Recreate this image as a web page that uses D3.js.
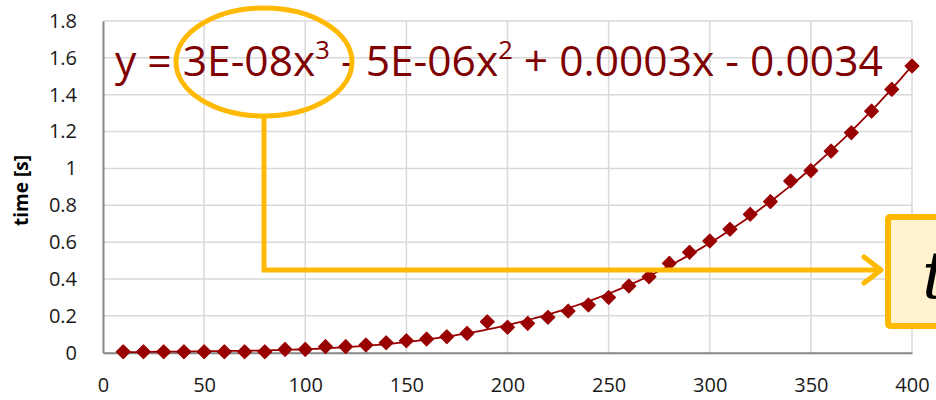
<!DOCTYPE html>
<html>
<head>
<meta charset="utf-8">
<script src="https://cdn.jsdelivr.net/npm/d3@7"></script>
<style>
  html, body { margin: 0; padding: 0; background: #fff; overflow: hidden; }
  svg { display: block; }
  .tick-label { font-family: "Open Sans", "Liberation Sans", sans-serif; font-size: 20px; fill: #1a1a1a; }
</style>
</head>
<body>
<div id="chart"></div>
<script>
// 数据
const sizes = [10, 20, 30, 40, 50, 60, 70, 80, 90, 100,
               110, 120, 130, 140, 150, 160, 170, 180, 190, 200,
               210, 220, 230, 240, 250, 260, 270, 280, 290, 300,
               310, 320, 330, 340, 350, 360, 370, 380, 390, 400];
const times = [0.005, 0.005, 0.005, 0.005, 0.005, 0.005, 0.005, 0.005, 0.018, 0.018,
               0.033, 0.033, 0.042, 0.054, 0.065, 0.074, 0.087, 0.105, 0.168, 0.138,
               0.159, 0.192, 0.226, 0.259, 0.300, 0.362, 0.412, 0.485, 0.545, 0.606,
               0.670, 0.751, 0.820, 0.932, 0.988, 1.094, 1.194, 1.311, 1.429, 1.556];
const xTicks = [0, 50, 100, 150, 200, 250, 300, 350, 400];
const yTicks = [0, 0.2, 0.4, 0.6, 0.8, 1, 1.2, 1.4, 1.6, 1.8];
const equationParts = [
    { text: 'y = 3E-08x', sup: false },
    { text: '3', sup: true },
    { text: ' - 5E-06x', sup: false },
    { text: '2', sup: true },
    { text: ' + 0.0003x - 0.0034', sup: false }
];
const yTitle = 'time [s]';

const width = 936, height = 400;
const red = '#990000', orange = '#ffb900';

const svg = d3.select('#chart').append('svg')
    .attr('width', width)
    .attr('height', height);

const x = d3.scaleLinear().domain([0, 400]).range([103, 912]);
const y = d3.scaleLinear().domain([0, 1.8]).range([352.7, 21]);

// 网格线
svg.append('g')
    .selectAll('line')
    .data(xTicks.slice(1))
    .enter().append('line')
    .attr('x1', d => x(d)).attr('x2', d => x(d))
    .attr('y1', y(1.8)).attr('y2', y(0))
    .attr('stroke', '#d9d9d9').attr('stroke-width', 1.5);

svg.append('g')
    .selectAll('line')
    .data(yTicks.slice(1))
    .enter().append('line')
    .attr('x1', x(0)).attr('x2', x(400))
    .attr('y1', d => y(d)).attr('y2', d => y(d))
    .attr('stroke', '#d9d9d9').attr('stroke-width', 1.5);

// 坐标轴
const yAxis = svg.append('g')
    .attr('transform', `translate(${x(0)},0)`)
    .call(d3.axisLeft(y).tickValues(yTicks).tickSize(0).tickPadding(26).tickFormat(d3.format('')));
const xAxis = svg.append('g')
    .attr('transform', `translate(0,${y(0)})`)
    .call(d3.axisBottom(x).tickValues(xTicks).tickSize(0).tickPadding(25));
[yAxis, xAxis].forEach(a => {
    a.select('.domain').attr('stroke', '#868686').attr('stroke-width', 2);
    a.selectAll('text').attr('class', 'tick-label').attr('fill', '#1a1a1a');
});

svg.append('text')
    .attr('transform', `translate(28,${y(0.88)}) rotate(-90)`)
    .attr('text-anchor', 'middle')
    .attr('font-family', '"Open Sans", "Liberation Sans", sans-serif')
    .attr('font-weight', 'bold')
    .attr('font-size', 19)
    .text(yTitle);

// 三次多项式拟合 (最小二乘)
function polyfit(xs, ys, deg) {
    const n = deg + 1;
    const A = Array.from({ length: n }, () => new Array(n + 1).fill(0));
    xs.forEach((xv, k) => {
        for (let i = 0; i < n; i++) {
            for (let j = 0; j < n; j++) A[i][j] += Math.pow(xv, i + j);
            A[i][n] += ys[k] * Math.pow(xv, i);
        }
    });
    for (let i = 0; i < n; i++) {
        let p = i;
        for (let r = i + 1; r < n; r++) if (Math.abs(A[r][i]) > Math.abs(A[p][i])) p = r;
        [A[i], A[p]] = [A[p], A[i]];
        for (let r = 0; r < n; r++) {
            if (r === i) continue;
            const f = A[r][i] / A[i][i];
            for (let c = i; c <= n; c++) A[r][c] -= f * A[i][c];
        }
    }
    return A.map((row, i) => row[n] / row[i]);
}
const coef = polyfit(sizes, times, 3);
const fit = xv => coef.reduce((s, c, i) => s + c * Math.pow(xv, i), 0);
const fitPts = d3.range(sizes[0], 400.5, 2).map(v => [v, fit(v)]);

svg.append('path')
    .datum(fitPts)
    .attr('fill', 'none')
    .attr('stroke', red)
    .attr('stroke-width', 1.8)
    .attr('d', d3.line().x(d => x(d[0])).y(d => y(Math.max(d[1], 0))));

// 数据点
svg.append('g')
    .selectAll('path')
    .data(sizes.map((s, i) => [s, times[i]]))
    .enter().append('path')
    .attr('transform', d => `translate(${x(d[0])},${y(d[1])})`)
    .attr('d', d3.symbol().type(d3.symbolDiamond2).size(120))
    .attr('fill', red)
    .attr('stroke', red)
    .attr('stroke-width', 1.2)
    .attr('stroke-linejoin', 'round');

// 方程
const eq = svg.append('text')
    .attr('x', 115)
    .attr('y', 76)
    .attr('font-family', '"Open Sans", "Liberation Sans", sans-serif')
    .attr('font-size', 40)
    .attr('fill', '#7f0000');
equationParts.forEach(p => {
    const t = eq.append('tspan').text(p.text);
    if (p.sup) t.attr('font-size', '60%').attr('baseline-shift', 'super');
});
const eqW = eq.node().getComputedTextLength();
eq.attr('font-size', 40 * 768 / eqW);

// 标注
svg.append('ellipse')
    .attr('cx', 264).attr('cy', 62).attr('rx', 88).attr('ry', 54)
    .attr('fill', 'none').attr('stroke', orange).attr('stroke-width', 5);

svg.append('path')
    .attr('d', 'M264,117 V270 H881')
    .attr('fill', 'none').attr('stroke', orange).attr('stroke-width', 5)
    .attr('stroke-linejoin', 'miter');
svg.append('path')
    .attr('d', 'M864,257 L881,270 L864,283')
    .attr('fill', 'none').attr('stroke', orange).attr('stroke-width', 5)
    .attr('stroke-linecap', 'round').attr('stroke-linejoin', 'round');

svg.append('rect')
    .attr('x', 888).attr('y', 217).attr('width', 80).attr('height', 109)
    .attr('rx', 2)
    .attr('fill', '#fff2cc').attr('stroke', orange).attr('stroke-width', 6);

svg.append('text')
    .attr('x', 922).attr('y', 298)
    .attr('font-family', '"DejaVu Serif", serif')
    .attr('font-style', 'italic')
    .attr('font-size', 66)
    .attr('fill', '#000')
    .text('t');
</script>
</body>
</html>
